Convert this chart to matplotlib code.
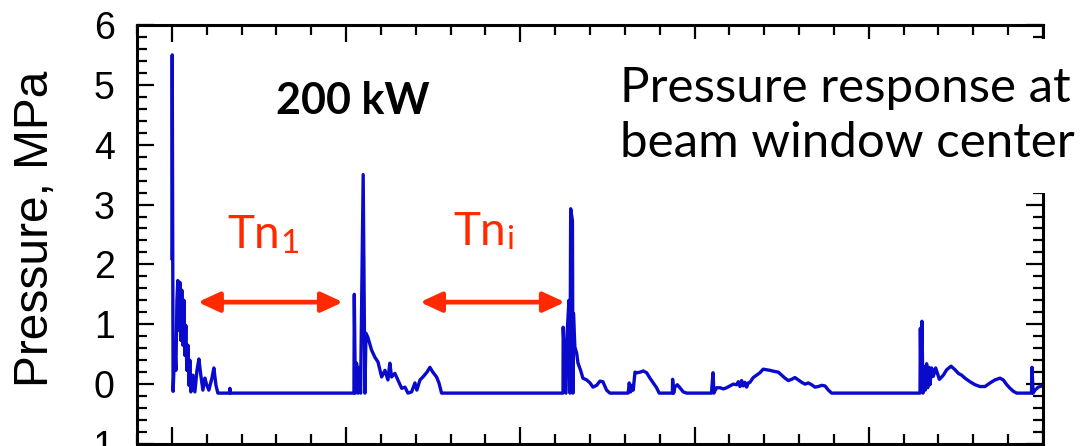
import matplotlib
matplotlib.use("Agg")
import numpy as np
import matplotlib.pyplot as plt
from matplotlib.patches import Rectangle
from matplotlib.ticker import MultipleLocator

# time (arbitrary units, 10 per major tick) and pressure (MPa)
t1 = [0.00, 0.02, 0.07, 0.17, 0.23, 0.29, 0.34, 0.40, 0.46, 0.52, 0.57, 0.63, 0.69,
      0.75, 0.80, 0.86, 0.92, 0.98, 1.03, 1.09, 1.21, 1.32, 1.44, 1.55, 1.66, 1.78,
      1.89, 2.01, 2.12, 2.30, 2.41, 2.53, 2.64, 3.30, 3.33, 3.36]
p1 = [2.10, 5.50, -0.12, 0.65, 0.23, 1.40, 1.73, 0.90, 1.70, 0.73, 1.57, 0.65, 1.40,
      0.48, 0.98, 0.23, 0.65, -0.02, 0.40, -0.13, 0.15, -0.13, 0.23, 0.42, 0.15, -0.10,
      0.10, -0.02, -0.10, 0.10, 0.27, -0.02, -0.15, -0.15, -0.07, -0.15]

t2 = [10.45, 10.47, 10.53, 10.60, 10.68, 10.73, 10.83, 10.98, 11.08, 11.14, 11.25,
      11.46, 11.65, 11.83, 12.04, 12.23, 12.40, 12.51, 12.61, 12.80, 12.97, 13.19,
      13.38, 13.55, 13.76, 13.95, 14.06, 14.24, 14.41, 14.64, 14.81, 14.98, 15.19,
      15.33, 15.48]
p2 = [-0.15, 1.50, -0.15, 0.35, -0.15, 0.28, -0.15, 3.50, -0.15, 0.85, 0.78,
      0.57, 0.45, 0.37, 0.12, 0.23, 0.07, 0.35, 0.12, 0.18, 0.07, -0.07,
      -0.05, -0.15, -0.13, 0.02, -0.10, 0.07, 0.12, 0.20, 0.28, 0.20, 0.12,
      0.02, -0.15]

t3 = [22.45, 22.46, 22.62, 22.69, 22.79, 22.85, 22.89, 22.99, 23.02, 23.05, 23.13,
      23.23, 23.31, 23.46, 23.59, 23.81, 24.00, 24.17, 24.38, 24.57, 24.74, 24.95,
      25.14, 26.19, 26.25, 26.33, 26.39, 26.48, 26.58, 26.71, 26.87, 27.06, 27.25,
      27.44, 27.63, 27.82, 27.97, 28.73, 28.74, 28.80, 28.87, 29.01, 29.16, 29.35,
      29.55]
p3 = [-0.15, 0.95, -0.15, 0.87, 1.40, -0.15, 2.93, 2.73, -0.15, 1.18, 0.62,
      0.52, 0.35, 0.23, 0.10, 0.07, 0.02, -0.05, -0.02, 0.05, 0.04, -0.10,
      -0.15, -0.15, 0.02, -0.13, -0.02, -0.10, 0.20, 0.19, 0.20, 0.22, 0.19,
      0.10, 0.02, -0.06, -0.15, -0.15, 0.08, -0.15, -0.05, -0.01, -0.06, -0.13,
      -0.15]

t4 = [30.97, 31.06, 31.11, 31.17, 31.27, 31.46, 31.65, 31.84, 32.03, 32.22, 32.42,
      32.51, 32.61, 32.70, 32.80, 32.89, 32.99, 33.08, 33.18, 33.37, 33.56, 33.75,
      33.94, 34.14, 34.33, 34.62, 34.81, 35.00, 35.19, 35.38, 35.57, 35.76, 35.95,
      36.15, 36.34, 36.53, 36.72, 36.91, 37.10, 37.30, 37.49, 37.68, 37.87]
p4 = [-0.15, 0.19, -0.15, -0.11, -0.06, -0.06, -0.08, -0.06, -0.03, 0.00, -0.01,
      0.04, -0.04, 0.06, -0.03, 0.03, -0.05, 0.02, 0.03, 0.11, 0.15, 0.19,
      0.25, 0.24, 0.23, 0.21, 0.20, 0.15, 0.10, 0.06, 0.08, 0.11, 0.07,
      0.03, 0.00, 0.02, -0.01, -0.05, -0.04, -0.02, -0.03, -0.10, -0.15]

t5 = [42.94, 42.96, 43.00, 43.05, 43.11, 43.19, 43.24, 43.32, 43.38, 43.46, 43.51,
      43.61, 43.70, 43.84, 43.93, 44.05, 44.28, 44.47, 44.72, 44.95, 45.14, 45.33,
      45.52, 45.81, 46.10, 46.38, 46.67, 46.96, 47.24, 47.53, 47.72, 47.92, 48.11,
      48.30, 48.49, 49.34, 49.37, 49.43, 49.54, 49.73, 49.93, 50.00]
p5 = [-0.15, 0.93, -0.10, 1.05, -0.15, 0.29, -0.10, 0.34, -0.06, 0.28, -0.01,
      0.27, 0.13, 0.27, 0.19, 0.08, 0.15, 0.24, 0.30, 0.24, 0.18, 0.15,
      0.10, 0.04, -0.01, -0.04, -0.04, 0.02, 0.07, 0.10, 0.07, -0.01, -0.07,
      -0.12, -0.15, -0.15, 0.28, -0.15, -0.10, -0.05, -0.03, -0.02]

t = np.concatenate([t1, t2, t3, t4, t5])
p = np.concatenate([p1, p2, p3, p4, p5])

blue = '#0a0acc'
red = '#ff2a00'
cal = ['Lato', 'DejaVu Sans']

plt.rcParams['font.family'] = ['Liberation Sans', 'DejaVu Sans']
plt.rcParams['axes.unicode_minus'] = False

fig = plt.figure(figsize=(10.85, 4.46), dpi=100)
ax = fig.add_axes([0.1263, 0.0045, 0.835, 0.9395])

ax.plot(t, p, color=blue, lw=2.4)

ax.set_xlim(-2, 50)
ax.set_ylim(-1, 6)
ax.xaxis.set_major_locator(MultipleLocator(10))
ax.xaxis.set_minor_locator(MultipleLocator(2))
ax.yaxis.set_major_locator(MultipleLocator(1))
ax.yaxis.set_minor_locator(MultipleLocator(0.2))
ax.tick_params(which='both', direction='in', top=True, right=True, width=1.6,
               labelbottom=False)
ax.tick_params(which='major', length=12, labelsize=27, pad=16)
ax.tick_params(which='minor', length=7)
for s in ax.spines.values():
    s.set_linewidth(2.2)

fig.text(36 / 1085, 1 - 229 / 446, 'Pressure, MPa', rotation=90, ha='center',
         va='center', fontsize=34.5)

# white panel behind the caption, it hides part of the frame
ax.add_patch(Rectangle((24.6, 3.2), 30, 2.57, facecolor='white', edgecolor='none',
                       zorder=3, clip_on=False))
ax.text(25.7, 4.72, 'Pressure response at', family=cal, fontsize=35.5, zorder=4,
        ha='left', va='baseline', clip_on=False)
ax.text(25.7, 3.79, 'beam window center', family=cal, fontsize=35.5, zorder=4,
        ha='left', va='baseline', clip_on=False)

ax.text(6.0, 4.52, '200 kW', family=cal, fontsize=31, fontweight='bold',
        ha='left', va='baseline')

# period labels and arrows
ax.text(3.16, 2.27, 'Tn', family=cal, fontsize=33, color=red, ha='left', va='baseline')
ax.text(6.2, 2.19, '1', family=cal, fontsize=24, color=red, ha='left', va='baseline')
ax.text(16.13, 2.32, 'Tn', family=cal, fontsize=33, color=red, ha='left', va='baseline')
ax.text(19.2, 2.26, 'i', family=cal, fontsize=24, color=red, ha='left', va='baseline')

arrow = dict(arrowstyle='<|-|>,head_length=1.3,head_width=0.6', color=red, lw=3.4,
             shrinkA=0, shrinkB=0)
ax.annotate('', xy=(1.49, 1.37), xytext=(9.82, 1.37), arrowprops=arrow)
ax.annotate('', xy=(14.24, 1.37), xytext=(22.56, 1.37), arrowprops=arrow)

fig.savefig('out.png', dpi=100)
